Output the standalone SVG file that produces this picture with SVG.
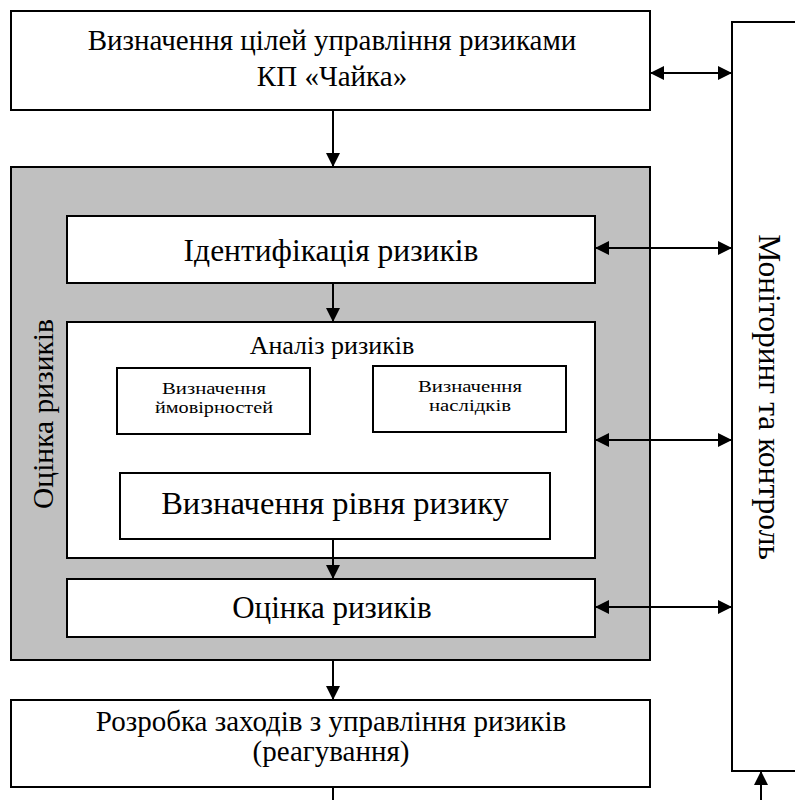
<svg xmlns="http://www.w3.org/2000/svg" width="795" height="800" viewBox="0 0 795 800">
<style>
.box{fill:#fff;stroke:#000;stroke-width:2}
.gray{fill:#c0c0c0;stroke:#000;stroke-width:2}
.t{font-family:"Liberation Serif","Times New Roman",serif;fill:#000;text-anchor:middle}
.ln{stroke:#000;stroke-width:2;fill:none}
</style>
<defs>
<marker id="ah" viewBox="0 0 14 14" refX="14" refY="7" markerWidth="14" markerHeight="14" markerUnits="userSpaceOnUse" orient="auto-start-reverse">
<path d="M0,0 L14,7 L0,14 Z" fill="#000"/>
</marker>
</defs>
<rect width="795" height="800" fill="#fff"/>
<g id="monitoring">
<rect class="box" x="732" y="22" width="100" height="749"/>
<text class="t" font-size="31.5" transform="translate(759,397) rotate(90)">Моніторинг та контроль</text>
</g>
<g id="goals">
<rect class="box" x="11" y="11" width="639" height="99"/>
<text class="t" font-size="29" x="332" y="50">Визначення цілей управління ризиками</text>
<text class="t" font-size="29" x="332" y="86">КП «Чайка»</text>
</g>
<g id="assessment">
<rect class="gray" x="11" y="167" width="639" height="493"/>
<text class="t" font-size="29.5" transform="translate(53,414) rotate(-90)">Оцінка ризиків</text>
</g>
<g id="identification">
<rect class="box" x="67" y="216" width="528" height="67"/>
<text class="t" font-size="31.5" x="331" y="261">Ідентифікація ризиків</text>
</g>
<g id="analysis">
<rect class="box" x="67" y="322" width="528" height="236"/>
<text class="t" font-size="26" x="332" y="354">Аналіз ризиків</text>
</g>
<g id="probability">
<rect class="box" x="117" y="368" width="193" height="66"/>
<text class="t" font-size="17" x="214" y="394" textLength="104" lengthAdjust="spacingAndGlyphs">Визначення</text>
<text class="t" font-size="17" x="214" y="413" textLength="118" lengthAdjust="spacingAndGlyphs">ймовірностей</text>
</g>
<g id="consequences">
<rect class="box" x="373" y="366" width="193" height="66"/>
<text class="t" font-size="17" x="470" y="392" textLength="104" lengthAdjust="spacingAndGlyphs">Визначення</text>
<text class="t" font-size="17" x="470" y="411" textLength="82" lengthAdjust="spacingAndGlyphs">наслідків</text>
</g>
<g id="level">
<rect class="box" x="120" y="473" width="430" height="66"/>
<text class="t" font-size="32.5" x="335" y="514">Визначення рівня ризику</text>
</g>
<g id="evaluation">
<rect class="box" x="67" y="579" width="528" height="58"/>
<text class="t" font-size="31" x="332" y="618">Оцінка ризиків</text>
</g>
<g id="treatment">
<rect class="box" x="11" y="700" width="639" height="87"/>
<text class="t" font-size="29" x="331" y="731">Розробка заходів з управління ризиків</text>
<text class="t" font-size="29" x="331" y="761">(реагування)</text>
</g>
<g id="connectors">
<line class="ln" x1="333" y1="110" x2="333" y2="167" marker-end="url(#ah)"/>
<line class="ln" x1="333" y1="283" x2="333" y2="322" marker-end="url(#ah)"/>
<line class="ln" x1="333" y1="539" x2="333" y2="579" marker-end="url(#ah)"/>
<line class="ln" x1="333" y1="660" x2="333" y2="700" marker-end="url(#ah)"/>
<line class="ln" x1="333" y1="787" x2="333" y2="800"/>
<line class="ln" x1="761" y1="800" x2="761" y2="771" marker-end="url(#ah)"/>
<line class="ln" x1="650" y1="73" x2="732" y2="73" marker-start="url(#ah)" marker-end="url(#ah)"/>
<line class="ln" x1="595" y1="248" x2="732" y2="248" marker-start="url(#ah)" marker-end="url(#ah)"/>
<line class="ln" x1="595" y1="440" x2="732" y2="440" marker-start="url(#ah)" marker-end="url(#ah)"/>
<line class="ln" x1="595" y1="607" x2="732" y2="607" marker-start="url(#ah)" marker-end="url(#ah)"/>
</g>
</svg>
